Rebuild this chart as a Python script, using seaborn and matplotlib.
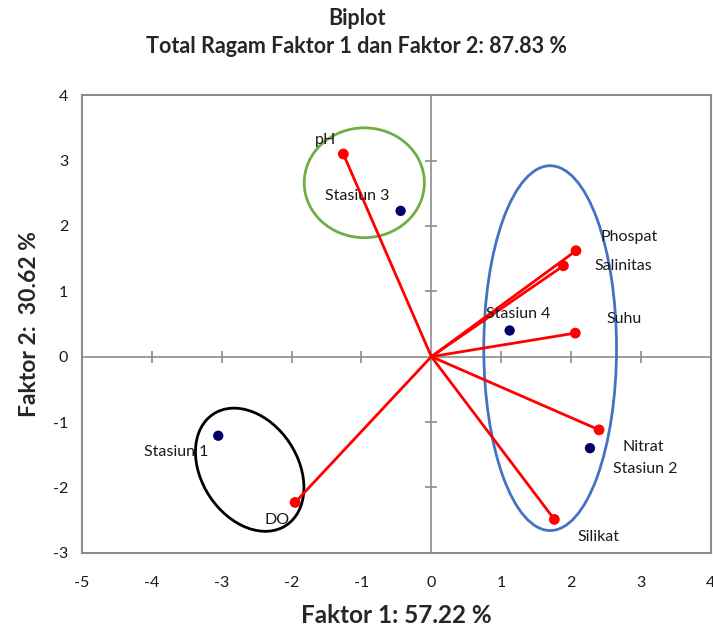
import numpy as np
import pandas as pd
import matplotlib
matplotlib.use("Agg")
import matplotlib.pyplot as plt
from matplotlib.patches import Ellipse
import seaborn as sns

# variable loadings (red vectors)
var_names = ["pH", "Phospat", "Salinitas", "Suhu", "Nitrat", "Silikat", "DO"]
var_x = [-1.26, 2.07, 1.89, 2.06, 2.40, 1.76, -1.95]
var_y = [3.10, 1.62, 1.39, 0.36, -1.12, -2.49, -2.23]

# station scores (navy points)
stn_names = ["Stasiun 1", "Stasiun 2", "Stasiun 3", "Stasiun 4"]
stn_x = [-3.05, 2.27, -0.44, 1.12]
stn_y = [-1.21, -1.40, 2.23, 0.40]

x_ticks = [-5, -4, -3, -2, -1, 0, 1, 2, 3, 4]
y_ticks = [-3, -2, -1, 0, 1, 2, 3, 4]

# label offsets in points (dx, dy)
var_off = {"pH": (-13, 10), "Phospat": (38, 10), "Salinitas": (43, 0), "Suhu": (35, 10),
           "Nitrat": (32, -12), "Silikat": (32, -13), "DO": (-13, -13)}
stn_off = {"Stasiun 1": (-30, -12), "Stasiun 2": (40, -15), "Stasiun 3": (-31, 11),
           "Stasiun 4": (6, 12)}

sns.set_style("white")
plt.rcParams["font.family"] = ["Lato", "DejaVu Sans"]
plt.rcParams["axes.unicode_minus"] = False

vars_df = pd.DataFrame({"name": var_names, "x": var_x, "y": var_y})
stn_df = pd.DataFrame({"name": stn_names, "x": stn_x, "y": stn_y})

fig = plt.figure(figsize=(7.13, 6.26), dpi=100)
ax = fig.add_axes([0.115, 0.117, 0.882, 0.731])

# zero lines with cross ticks
ax.axhline(0, color="#8c8c8c", lw=1.2, zorder=1)
ax.axvline(0, color="#8c8c8c", lw=1.2, zorder=1)
ax.plot([t for t in x_ticks if t not in (0, x_ticks[0], x_ticks[-1])],
        [0] * 7, ls="none", marker="|", ms=9, mew=1.2, color="#8c8c8c", zorder=1)
ax.plot([0] * 5, [t for t in y_ticks if t not in (0, y_ticks[0], y_ticks[-1])],
        ls="none", marker="_", ms=9, mew=1.2, color="#8c8c8c", zorder=1)

# vectors
for _, r in vars_df.iterrows():
    ax.plot([0, r.x], [0, r.y], color="red", lw=2, zorder=3)
sns.scatterplot(data=vars_df, x="x", y="y", color="red", s=60, edgecolor="none",
                ax=ax, zorder=4)
sns.scatterplot(data=stn_df, x="x", y="y", color="#000066", s=55, edgecolor="none",
                ax=ax, zorder=4)

for _, r in vars_df.iterrows():
    ax.annotate(r["name"], (r.x, r.y), xytext=var_off[r["name"]], textcoords="offset points",
                ha="center", va="center", fontsize=11.5, color="#1a1a1a")
for _, r in stn_df.iterrows():
    ax.annotate(r["name"], (r.x, r.y), xytext=stn_off[r["name"]], textcoords="offset points",
                ha="center", va="center", fontsize=11.5, color="#1a1a1a")

# group ellipses
ax.add_patch(Ellipse((-0.96, 2.66), 1.72, 1.68, fill=False, ec="#70ad47", lw=2, zorder=2))
ax.add_patch(Ellipse((1.70, 0.13), 1.90, 5.58, fill=False, ec="#4472c4", lw=2, zorder=2))
ax.add_patch(Ellipse((-2.60, -1.73), 1.40, 2.00, angle=28, fill=False, ec="black", lw=2, zorder=2))

ax.set_xlim(-5, 4)
ax.set_ylim(-3, 4)
ax.set_xticks(x_ticks)
ax.set_yticks(y_ticks)
ax.tick_params(length=0, labelsize=11.5, labelcolor="#1a1a1a")
ax.tick_params(axis="x", pad=17)
ax.tick_params(axis="y", pad=10)
for s in ax.spines.values():
    s.set_color("#8c8c8c")
    s.set_linewidth(1.5)

ax.set_xlabel("Faktor 1: 57.22 %", fontsize=17.5, fontweight="bold", labelpad=10)
ax.set_ylabel("Faktor 2:  30.62 %", fontsize=16.5, fontweight="bold", labelpad=9)
fig.text(0.5, 0.971, "Biplot", ha="center", va="center", fontsize=15.5, fontweight="bold")
fig.text(0.5, 0.926, "Total Ragam Faktor 1 dan Faktor 2: 87.83 %", ha="center", va="center",
         fontsize=15.5, fontweight="bold")

fig.savefig("out.png", dpi=100)
